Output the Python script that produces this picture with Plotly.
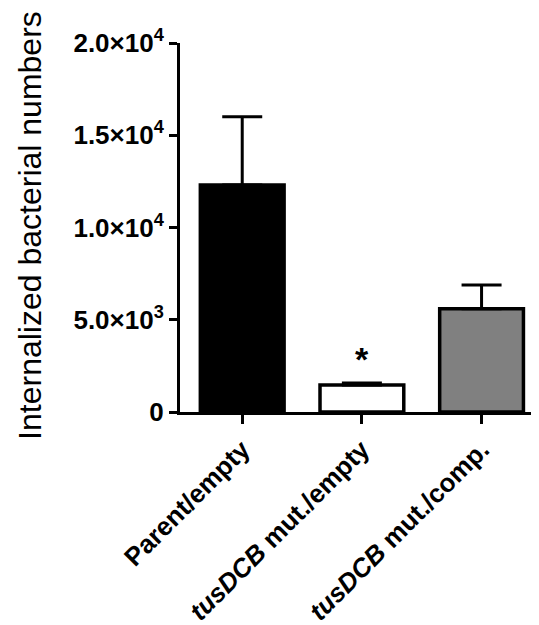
import plotly.graph_objects as go

categories = ["Parent/empty", "<i>tusDCB</i> mut./empty", "<i>tusDCB</i> mut./comp."]
means = [12300, 1470, 5590]
errors = [3700, 100, 1300]
bar_colors = ["#000000", "#ffffff", "#808080"]
y_tickvals = [0, 5000, 10000, 15000, 20000]
y_ticktext = ["0", "5.0×10<sup>3</sup>", "1.0×10<sup>4</sup>", "1.5×10<sup>4</sup>", "2.0×10<sup>4</sup>"]
star_y = 2880

x_pos = list(range(len(categories)))

fig = go.Figure()
fig.add_trace(go.Bar(
    x=x_pos, y=means, width=0.7,
    marker=dict(color=bar_colors, line=dict(color="black", width=3.5)),
    error_y=dict(type="data", array=errors, arrayminus=[0, 0, 0], symmetric=False,
                 color="black", thickness=3, width=20),
    showlegend=False,
))

fig.add_annotation(x=1, y=star_y, xref="x", yref="y", text="<b>*</b>", showarrow=False,
                   font=dict(family="Liberation Sans, Arial", size=34, color="black"),
                   yanchor="middle")

fig.add_annotation(x=-0.42, y=0.505, xref="paper", yref="paper",
                   text="Internalized bacterial numbers", textangle=-90, showarrow=False,
                   font=dict(family="Liberation Sans, Arial", size=32, color="black"),
                   xanchor="center", yanchor="middle")

fig.update_layout(
    width=531, height=617,
    margin=dict(l=172, r=0, t=35, b=213, autoexpand=False),
    plot_bgcolor="white", paper_bgcolor="white",
    bargap=0.3,
    xaxis=dict(range=[-0.52, 2.48], tickvals=x_pos, ticktext=categories, tickangle=-45,
               automargin=False,
               showline=True, linecolor="black", linewidth=3,
               ticks="outside", ticklen=9, tickwidth=3, tickcolor="black",
               showgrid=False, zeroline=False,
               tickfont=dict(family="Liberation Sans, Arial", size=26, color="black", weight="bold")),
    yaxis=dict(range=[0, 20000], tickvals=y_tickvals, ticktext=y_ticktext,
               automargin=False,
               showline=True, linecolor="black", linewidth=3,
               ticks="outside", ticklen=8, tickwidth=3, tickcolor="black",
               showgrid=False, zeroline=False,
               tickfont=dict(family="Liberation Sans, Arial", size=26, color="black", weight="bold")),
)

fig.write_html("out.html")
